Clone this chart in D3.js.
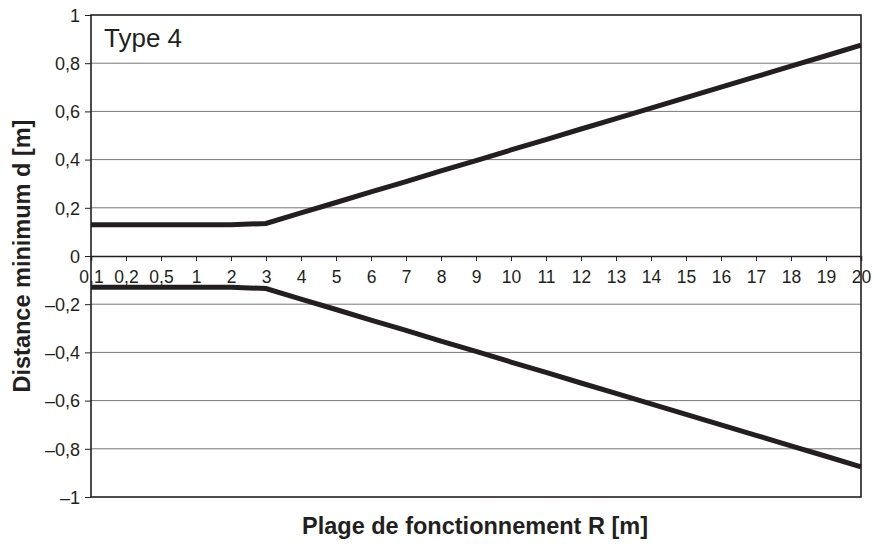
<!DOCTYPE html>
<html>
<head>
<meta charset="utf-8">
<script src="https://cdn.jsdelivr.net/npm/d3@7"></script>
<style>
  body { margin: 0; background: #fff; }
  text { font-family: "Liberation Sans", Arial, sans-serif; fill: #231f20; }
  .grid line { stroke: #777; stroke-width: 1; }
</style>
</head>
<body>
<div id="chart"></div>
<script>
// Catégories de l'axe X (plage R en m) et valeurs
const categories = ["0,1", "0,2", "0,5", "1", "2", "3", "4", "5", "6", "7", "8", "9", "10",
  "11", "12", "13", "14", "15", "16", "17", "18", "19", "20"];
const upper = [0.13, 0.13, 0.13, 0.13, 0.13, 0.135, 0.179, 0.222, 0.266, 0.309, 0.353, 0.396, 0.44,
  0.483, 0.527, 0.57, 0.614, 0.657, 0.701, 0.744, 0.788, 0.831, 0.875];
const lower = upper.map(v => -v); // courbe symétrique
const yTicks = [1, 0.8, 0.6, 0.4, 0.2, 0, -0.2, -0.4, -0.6, -0.8, -1];

const margin = {top: 15, right: 22, bottom: 54, left: 91},
    width = 883 - margin.left - margin.right,
    height = 551 - margin.top - margin.bottom;

const x = d3.scalePoint().domain(categories).range([0, width]).padding(0);
const y = d3.scaleLinear().domain([-1, 1]).range([height, 0]);

const fmt = d => d === 0 ? "0" : (d < 0 ? "\u2013" : "") + String(Math.abs(d)).replace(".", ",");

const svg = d3.select("#chart").append("svg")
    .attr("width", 883)
    .attr("height", 551)
  .append("g")
    .attr("transform", "translate(" + margin.left + "," + margin.top + ")");

// grille horizontale
svg.append("g").attr("class", "grid")
  .selectAll("line").data(yTicks.filter(d => d !== 0 && Math.abs(d) !== 1)).enter()
  .append("line")
    .attr("x1", 0).attr("x2", width)
    .attr("y1", d => y(d)).attr("y2", d => y(d));

// axe Y
const yAxis = svg.append("g")
    .call(d3.axisLeft(y).tickValues(yTicks).tickFormat(fmt).tickSize(6).tickPadding(5));
yAxis.select(".domain").remove();
yAxis.selectAll("line").attr("stroke", "#231f20");
yAxis.selectAll("text").attr("font-size", 18).attr("dy", "0.35em");

// axe X au niveau du zéro
const xAxis = svg.append("g")
    .attr("transform", "translate(0," + y(0) + ")")
    .call(d3.axisBottom(x).tickSize(5).tickPadding(10));
xAxis.select(".domain").attr("stroke", "#231f20").attr("stroke-width", 1.5);
xAxis.selectAll("line").attr("stroke", "#231f20");
xAxis.selectAll("text").attr("font-size", 17.5);

// cadre
svg.append("rect")
    .attr("width", width).attr("height", height)
    .attr("fill", "none").attr("stroke", "#231f20").attr("stroke-width", 1.6);

// courbes
const line = d3.line().x((d, i) => x(categories[i])).y(d => y(d));
[upper, lower].forEach(s => {
  svg.append("path")
    .datum(s)
    .attr("fill", "none")
    .attr("stroke", "#231f20")
    .attr("stroke-width", 5)
    .attr("d", line);
});

svg.append("text")
    .attr("x", 13).attr("y", 32)
    .attr("font-size", 26)
    .text("Type 4");

// titres des axes
svg.append("text")
    .attr("x", 475 - margin.left).attr("y", 534 - margin.top)
    .attr("text-anchor", "middle")
    .attr("font-size", 23.5).attr("font-weight", "bold")
    .text("Plage de fonctionnement R [m]");

svg.append("text")
    .attr("transform", "rotate(-90)")
    .attr("x", -(256 - margin.top)).attr("y", 30 - margin.left)
    .attr("text-anchor", "middle")
    .attr("font-size", 23.5).attr("font-weight", "bold")
    .text("Distance minimum d [m]");
</script>
</body>
</html>
